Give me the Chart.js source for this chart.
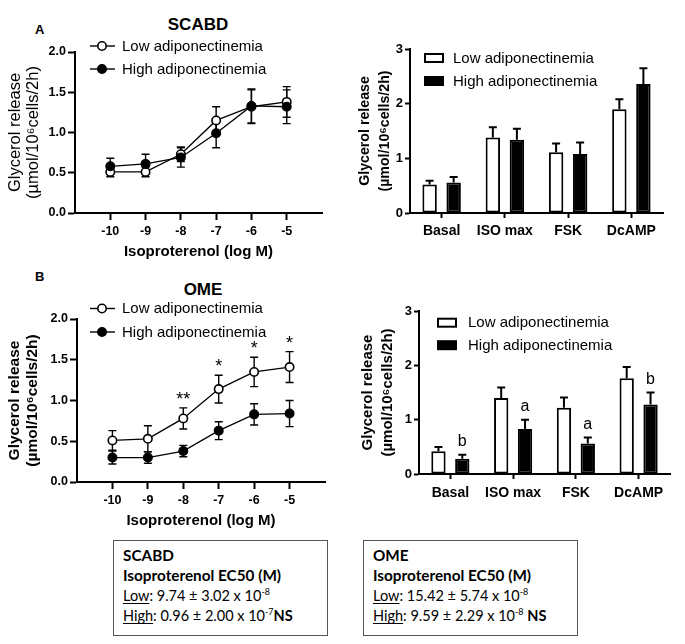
<!DOCTYPE html>
<html>
<head>
<meta charset="utf-8">
<script src="https://cdn.jsdelivr.net/npm/chart.js@4.4.1/dist/chart.umd.min.js"></script>
<style>
  html, body { margin: 0; padding: 0; background: #fff; }
  body { width: 685px; height: 644px; position: relative; overflow: hidden;
         font-family: "Liberation Sans", Arial, Helvetica, sans-serif; color: #000; }
  .wrap { position: absolute; }
  .wrap canvas { display: block; }
  .lbl { position: absolute; font-weight: bold; white-space: nowrap; }
  .box { position: absolute; box-sizing: border-box; border: 1px solid #555;
         font-family: Lato, "Open Sans", sans-serif; font-size: 14.5px; line-height: 20.4px;
         padding: 4px 0 0 9px; white-space: nowrap; }
  .box .hd { font-weight: bold; font-size: 15.3px; }
  .box sup { font-size: 9px; line-height: 0; vertical-align: 6px; }
  .box u { text-decoration: underline; text-underline-offset: 2px; }
</style>
</head>
<body>

<div class="lbl" style="left:35px;top:23px;font-size:13px;line-height:14px;">A</div>
<div class="lbl" style="left:35px;top:270px;font-size:13px;line-height:14px;">B</div>
<div class="lbl" style="left:98px;top:15px;width:200px;text-align:center;font-size:17px;line-height:20px;">SCABD</div>
<div class="lbl" style="left:103px;top:280px;width:200px;text-align:center;font-size:17px;line-height:20px;">OME</div>

<div class="wrap" style="left:0;top:0;"><canvas id="lineA" width="340" height="265"></canvas></div>
<div class="wrap" style="left:340px;top:0;"><canvas id="barA" width="345" height="265"></canvas></div>
<div class="wrap" style="left:0;top:265px;"><canvas id="lineB" width="340" height="265"></canvas></div>
<div class="wrap" style="left:340px;top:265px;"><canvas id="barB" width="345" height="265"></canvas></div>

<div class="box" style="left:113px;top:540px;width:215px;height:96px;">
  <div class="hd">SCABD</div>
  <div class="hd">Isoproterenol EC50 (M)</div>
  <div><u>Low</u>: 9.74 ± 3.02 x 10<sup>-8</sup></div>
  <div><u>High</u>: 0.96 ± 2.00 x 10<sup>-7</sup><b>NS</b></div>
</div>
<div class="box" style="left:363px;top:540px;width:215px;height:96px;">
  <div class="hd">OME</div>
  <div class="hd">Isoproterenol EC50 (M)</div>
  <div><u>Low</u>: 15.42 ± 5.74 x 10<sup>-8</sup></div>
  <div><u>High</u>: 9.59 ± 2.29 x 10<sup>-8</sup> <b>NS</b></div>
</div>

<script>
// ---------------- data ----------------
const seriesNames = ['Low adiponectinemia', 'High adiponectinemia'];
const doses = [-10, -9, -8, -7, -6, -5];
const xTicks = [-10, -9, -8, -7, -6, -5];
const yTicksLine = [0, 0.5, 1, 1.5, 2];
const yTicksBar = [0, 1, 2, 3];
const categories = ['Basal', 'ISO max', 'FSK', 'DcAMP'];

// SCABD dose-response
const scabdLow = [0.51, 0.51, 0.73, 1.15, 1.32, 1.38];
const scabdLowErr = [0.06, 0.06, 0.09, 0.17, 0.21, 0.19];
const scabdHigh = [0.58, 0.61, 0.69, 0.99, 1.33, 1.32];
const scabdHighErr = [0.10, 0.12, 0.12, 0.18, 0.21, 0.21];

// OME dose-response
const omeLow = [0.51, 0.53, 0.78, 1.14, 1.35, 1.41];
const omeLowErr = [0.12, 0.16, 0.13, 0.17, 0.18, 0.19];
const omeHigh = [0.30, 0.30, 0.38, 0.63, 0.83, 0.84];
const omeHighErr = [0.08, 0.07, 0.07, 0.11, 0.13, 0.16];
const omeStars = ['', '', '**', '*', '*', '*'];

// SCABD bars
const scabdBarLow = [0.52, 1.38, 1.11, 1.90];
const scabdBarLowErr = [0.07, 0.19, 0.16, 0.18];
const scabdBarHigh = [0.56, 1.34, 1.08, 2.36];
const scabdBarHighErr = [0.10, 0.20, 0.21, 0.29];

// OME bars
const omeBarLow = [0.42, 1.40, 1.22, 1.76];
const omeBarLowErr = [0.075, 0.19, 0.19, 0.21];
const omeBarHigh = [0.28, 0.83, 0.56, 1.28];
const omeBarHighErr = [0.075, 0.17, 0.11, 0.22];
const omeBarLettersHigh = ['b', 'a', 'a', 'b'];

// ---------------- setup ----------------
const FONT = '"Liberation Sans", Arial, Helvetica, sans-serif';
Chart.defaults.font.family = FONT;
Chart.defaults.color = '#000';

const errPlugin = {
  id: 'errBars',
  beforeDatasetsDraw(chart) {
    const ctx = chart.ctx, ys = chart.scales.y;
    chart.data.datasets.forEach((ds, i) => {
      if (!ds.errors) return;
      const meta = chart.getDatasetMeta(i);
      meta.data.forEach((el, j) => {
        const raw = ds.data[j];
        const v = (typeof raw === 'object') ? raw.y : raw;
        const e = ds.errors[j];
        const x = el.x;
        const yTop = ys.getPixelForValue(v + e);
        const yBot = ds.errBoth ? ys.getPixelForValue(v - e) : ys.getPixelForValue(v);
        const cap = ds.errCap || 4;
        ctx.save();
        ctx.strokeStyle = '#000';
        ctx.lineWidth = ds.errWidth || 1.5;
        ctx.beginPath();
        ctx.moveTo(x, yTop); ctx.lineTo(x, yBot);
        ctx.moveTo(x - cap, yTop); ctx.lineTo(x + cap, yTop);
        if (ds.errBoth) { ctx.moveTo(x - cap, yBot); ctx.lineTo(x + cap, yBot); }
        ctx.stroke();
        ctx.restore();
      });
    });
  },
  afterDatasetsDraw(chart) {
    const ctx = chart.ctx, ys = chart.scales.y;
    chart.data.datasets.forEach((ds, i) => {
      if (!ds.marks) return;
      const meta = chart.getDatasetMeta(i);
      meta.data.forEach((el, j) => {
        const m = ds.marks[j];
        if (!m) return;
        const raw = ds.data[j];
        const v = (typeof raw === 'object') ? raw.y : raw;
        const yTop = ys.getPixelForValue(v + ds.errors[j]);
        ctx.save();
        ctx.fillStyle = '#000';
        ctx.font = ds.markFont;
        ctx.textAlign = 'center';
        ctx.textBaseline = 'alphabetic';
        ctx.fillText(m, el.x, yTop - ds.markGap);
        ctx.restore();
      });
    });
  }
};

const legendPlugin = {
  id: 'cLegend',
  afterDraw(chart, args, o) {
    const ctx = chart.ctx;
    chart.data.datasets.forEach((ds, i) => {
      const y = o.y + i * o.dy;
      ctx.save();
      ctx.strokeStyle = '#000';
      if (o.kind === 'line') {
        ctx.lineWidth = 1.4;
        ctx.beginPath(); ctx.moveTo(o.x - 12, y); ctx.lineTo(o.x + 13, y); ctx.stroke();
        ctx.beginPath(); ctx.arc(o.x, y, 4.2, 0, Math.PI * 2);
        ctx.fillStyle = ds.pointBackgroundColor; ctx.fill();
        ctx.lineWidth = 1.6; ctx.stroke();
      } else {
        ctx.fillStyle = ds.backgroundColor;
        ctx.lineWidth = 2;
        ctx.fillRect(o.x, y - 4, 18, 8);
        ctx.strokeRect(o.x, y - 4, 18, 8);
      }
      ctx.fillStyle = '#000';
      ctx.font = '15px ' + FONT;
      ctx.textAlign = 'left';
      ctx.textBaseline = 'middle';
      ctx.fillText(ds.label, o.tx, y + 0.5);
      ctx.restore();
    });
  }
};

function axisCommon(tickLen) {
  return {
    grid: { display: true, drawOnChartArea: false, drawTicks: true, tickLength: tickLen, tickWidth: 2, tickColor: '#000', offset: false },
    border: { display: true, color: '#000', width: 2 }
  };
}

function makeLine(id, low, lowErr, high, highErr, stars, L) {
  return new Chart(document.getElementById(id), {
    type: 'scatter',
    data: {
      datasets: [
        { label: seriesNames[0], data: doses.map((d, i) => ({ x: d, y: low[i] })), showLine: true,
          borderColor: '#000', borderWidth: 1.3, pointRadius: 4.2, pointBackgroundColor: '#fff',
          pointBorderColor: '#000', pointBorderWidth: 1.6, errors: lowErr, errBoth: true, errWidth: 1.4, errCap: 4,
          marks: stars, markFont: '18px ' + FONT, markGap: 3, order: 1 },
        { label: seriesNames[1], data: doses.map((d, i) => ({ x: d, y: high[i] })), showLine: true,
          borderColor: '#000', borderWidth: 1.3, pointRadius: 4.4, pointBackgroundColor: '#000',
          pointBorderColor: '#000', pointBorderWidth: 1.2, errors: highErr, errBoth: true, errWidth: 1.4, errCap: 4, order: 0 }
      ]
    },
    options: {
      responsive: false, animation: false, events: [],
      layout: { padding: { left: 0, top: L.top, right: L.right, bottom: 0 } },
      plugins: { legend: { display: false }, tooltip: { enabled: false },
                 cLegend: { kind: 'line', x: 102, tx: 122, y: L.legY, dy: L.legDy } },
      scales: {
        x: Object.assign(axisCommon(7), {
          type: 'linear', min: -11, max: -4,
          afterBuildTicks: s => { s.ticks = xTicks.map(v => ({ value: v })); },
          afterFit: s => { s.height = L.xh; },
          ticks: { font: { size: 12.5, weight: 'bold' }, padding: 4, color: '#000', callback: v => String(v) },
          title: { display: true, text: 'Isoproterenol (log M)', color: '#000',
                   font: { size: 15, weight: 'bold', lineHeight: '18px' }, padding: { top: 0, bottom: L.xtPad } }
        }),
        y: Object.assign(axisCommon(7), {
          min: 0, max: 2,
          afterBuildTicks: s => { s.ticks = yTicksLine.map(v => ({ value: v })); },
          afterFit: s => { s.width = L.yw; },
          ticks: { font: { size: 12.5, weight: 'bold' }, padding: 2, color: '#000', callback: v => Number(v).toFixed(1) },
          title: { display: true, text: ['Glycerol release', '(\u00b5mol/10\u2076cells/2h)'], color: '#000',
                   font: { size: L.ytSize, weight: L.ytWeight, lineHeight: '18px' }, padding: { top: 6, bottom: 0 } }
        })
      }
    },
    plugins: [errPlugin, legendPlugin]
  });
}

function makeBar(id, low, lowErr, high, highErr, letters, L) {
  return new Chart(document.getElementById(id), {
    type: 'bar',
    data: {
      labels: categories,
      datasets: [
        { label: seriesNames[0], data: low, backgroundColor: '#fff', borderColor: '#000', borderWidth: 2,
          borderSkipped: false, barPercentage: 0.6, categoryPercentage: 0.76,
          errors: lowErr, errWidth: 2, errCap: 4 },
        { label: seriesNames[1], data: high, backgroundColor: '#000', borderColor: '#000', borderWidth: 2,
          borderSkipped: false, barPercentage: 0.6, categoryPercentage: 0.76,
          errors: highErr, errWidth: 2, errCap: 4,
          marks: letters, markFont: '16px ' + FONT, markGap: 9 }
      ]
    },
    options: {
      responsive: false, animation: false, events: [],
      layout: { padding: { left: 0, top: L.top, right: L.right, bottom: 0 } },
      plugins: { legend: { display: false }, tooltip: { enabled: false },
                 cLegend: { kind: 'bar', x: L.legX, tx: L.legTx, y: L.legY, dy: L.legDy } },
      scales: {
        x: Object.assign(axisCommon(5), {
          afterFit: s => { s.height = L.xh; },
          ticks: { font: { size: 14, weight: 'bold' }, padding: L.xPad, color: '#000' }
        }),
        y: Object.assign(axisCommon(5), {
          min: 0, max: 3,
          afterBuildTicks: s => { s.ticks = yTicksBar.map(v => ({ value: v })); },
          afterFit: s => { s.width = L.yw; },
          ticks: { font: { size: 13, weight: 'bold' }, padding: 2, color: '#000' },
          title: { display: true, text: ['Glycerol release', '(\u00b5mol/10\u2076cells/2h)'], color: '#000',
                   font: { size: L.ytSize, weight: 'bold', lineHeight: '20px' }, padding: { top: L.ytPad, bottom: 0 } }
        })
      }
    },
    plugins: [errPlugin, legendPlugin]
  });
}

makeLine('lineA', scabdLow, scabdLowErr, scabdHigh, scabdHighErr, null,
  { top: 52, right: 18, xh: 52, yw: 75, xtPad: 4, ytSize: 16.5, ytWeight: 'normal', legY: 46, legDy: 23 });
makeLine('lineB', omeLow, omeLowErr, omeHigh, omeHighErr, omeStars,
  { top: 54, right: 15, xh: 48, yw: 77, xtPad: 0, ytSize: 15.5, ytWeight: 'bold', legY: 43.5, legDy: 23.5 });
makeBar('barA', scabdBarLow, scabdBarLowErr, scabdBarHigh, scabdBarHighErr, null,
  { top: 49, right: 22, xh: 52, yw: 70, xPad: 5, ytSize: 14.2, ytPad: 15, legX: 85, legTx: 113, legY: 58, legDy: 23 });
makeBar('barB', omeBarLow, omeBarLowErr, omeBarHigh, omeBarHighErr, omeBarLettersHigh,
  { top: 46, right: 15, xh: 56, yw: 79, xPad: 6, ytSize: 15, ytPad: 18, legX: 98, legTx: 128, legY: 57.7, legDy: 22.5 });
</script>
</body>
</html>
